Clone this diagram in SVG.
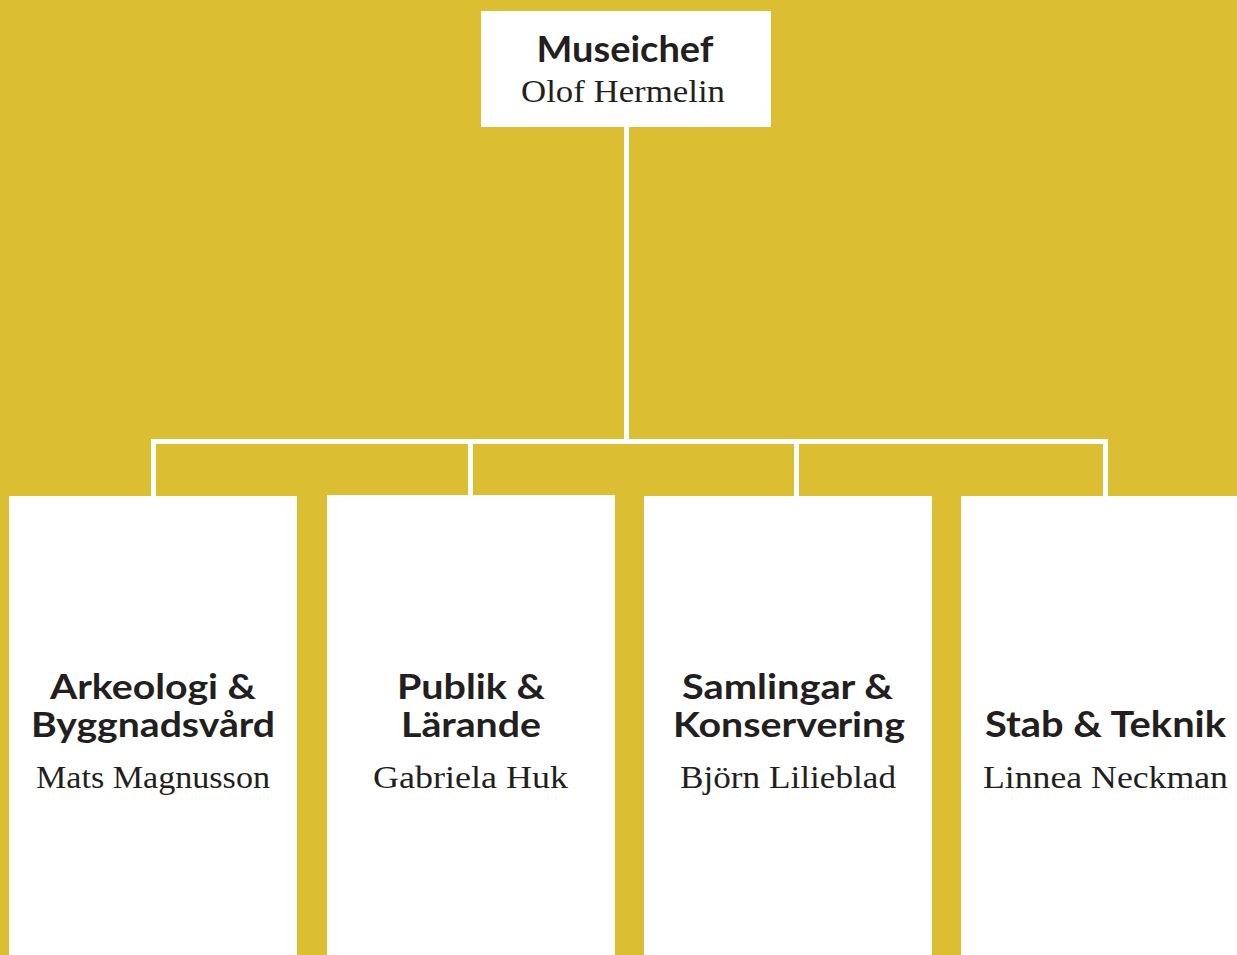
<svg xmlns="http://www.w3.org/2000/svg" width="1237" height="955" viewBox="0 0 1237 955">
<style>
.bg{fill:#DCBE33}
.box{fill:#FFFFFF}
.t{font-family:Lato,"Open Sans","Liberation Sans",sans-serif;font-weight:700;font-size:37px;fill:#231F20;text-anchor:middle}
.s{font-size:35px}
.n{font-family:"Liberation Serif","DejaVu Serif",serif;font-size:31px;fill:#231F20;text-anchor:middle}
.c{fill:none;stroke:#FFFFFF;stroke-width:5;stroke-linejoin:miter}
</style>
<rect class="bg" x="0" y="0" width="1237" height="955"/>
<g id="connectors">
<path class="c" d="M626.5 127 V441.5"/>
<path class="c" d="M153.5 496 V441.5 H1105.5 V496"/>
<path class="c" d="M470.5 441.5 V495"/>
<path class="c" d="M796.5 441.5 V496"/>
</g>
<g id="museichef">
<rect class="box" x="481" y="11" width="290" height="116"/>
<text class="t" x="625" y="62" textLength="177" lengthAdjust="spacingAndGlyphs">Museichef</text>
<text class="n" x="623" y="102" textLength="204" lengthAdjust="spacingAndGlyphs">Olof Hermelin</text>
</g>
<g id="arkeologi">
<rect class="box" x="9" y="496" width="288" height="459"/>
<text class="t s" x="153" y="699" textLength="206" lengthAdjust="spacingAndGlyphs">Arkeologi &amp;</text>
<text class="t s" x="153" y="737" textLength="244" lengthAdjust="spacingAndGlyphs">Byggnadsvård</text>
<text class="n" x="153" y="788" textLength="234" lengthAdjust="spacingAndGlyphs">Mats Magnusson</text>
</g>
<g id="publik">
<rect class="box" x="327" y="495" width="288" height="460"/>
<text class="t s" x="471" y="699" textLength="148" lengthAdjust="spacingAndGlyphs">Publik &amp;</text>
<text class="t s" x="471" y="737" textLength="140" lengthAdjust="spacingAndGlyphs">Lärande</text>
<text class="n" x="470.5" y="788" textLength="195" lengthAdjust="spacingAndGlyphs">Gabriela Huk</text>
</g>
<g id="samlingar">
<rect class="box" x="644" y="496" width="288" height="459"/>
<text class="t s" x="787.5" y="699" textLength="211" lengthAdjust="spacingAndGlyphs">Samlingar &amp;</text>
<text class="t s" x="789" y="737" textLength="232" lengthAdjust="spacingAndGlyphs">Konservering</text>
<text class="n" x="788" y="788" textLength="216" lengthAdjust="spacingAndGlyphs">Björn Lilieblad</text>
</g>
<g id="stab">
<rect class="box" x="961" y="496" width="288" height="459"/>
<text class="t" x="1105.5" y="737" textLength="241" lengthAdjust="spacingAndGlyphs">Stab &amp; Teknik</text>
<text class="n" x="1105.5" y="788" textLength="245" lengthAdjust="spacingAndGlyphs">Linnea Neckman</text>
</g>
</svg>
